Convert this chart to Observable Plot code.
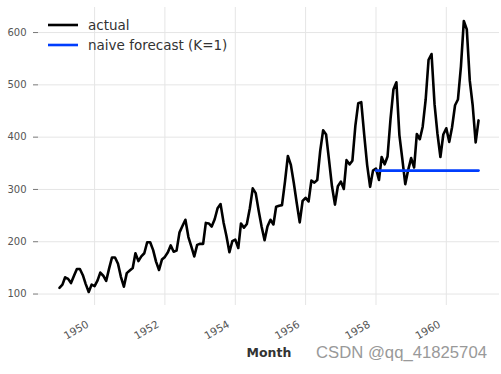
<!DOCTYPE html>
<html>
<head>
<meta charset="utf-8">
<script src="https://cdn.jsdelivr.net/npm/d3@7"></script>
<script src="https://cdn.jsdelivr.net/npm/@observablehq/plot@0.6"></script>
<style>
  html, body { margin: 0; padding: 0; background: #fff; }
  #chart { position: relative; width: 501px; height: 374px; }
</style>
</head>
<body>
<div id="chart"></div>
<script>
// AirPassengers monthly totals, 1949-01 .. 1960-12
const years = [1949,1950,1951,1952,1953,1954,1955,1956,1957,1958,1959,1960];
const passengers = [
  112,118,132,129,121,135,148,148,136,119,104,118,
  115,126,141,135,125,149,170,170,158,133,114,140,
  145,150,178,163,172,178,199,199,184,162,146,166,
  171,180,193,181,183,218,230,242,209,191,172,194,
  196,196,236,235,229,243,264,272,237,211,180,201,
  204,188,235,227,234,264,302,293,259,229,203,229,
  242,233,267,269,270,315,364,347,312,274,237,278,
  284,277,317,313,318,374,413,405,355,306,271,306,
  315,301,356,348,355,422,465,467,404,347,305,336,
  340,318,362,348,363,435,491,505,404,359,310,337,
  360,342,406,396,420,472,548,559,463,407,362,405,
  417,391,419,461,472,535,622,606,508,461,390,432
];
const forecastStart = "1958-01-01";
const forecastValue = 336; // last observed value before 1958
const xTicks = [1950,1952,1954,1956,1958,1960];
const yTicks = [100,200,300,400,500,600];
const legendLabels = ["actual", "naive forecast (K=1)"];
const seriesColors = ["#000000", "#003DFD"];

const actual = passengers.map((v, i) => ({
  date: new Date(Date.UTC(years[0] + Math.floor(i / 12), i % 12, 1)),
  value: v
}));
const fStart = new Date(forecastStart + "T00:00:00Z");
const forecast = actual.filter(d => d.date >= fStart).map(d => ({date: d.date, value: forecastValue}));

// matplotlib-like 5% margins
const t0 = +actual[0].date, t1 = +actual[actual.length - 1].date;
const dx = (t1 - t0) * 0.05;
const vmin = d3.min(passengers), vmax = d3.max(passengers);
const dv = (vmax - vmin) * 0.05;

const font = "'DejaVu Sans', sans-serif";
const xTickDates = xTicks.map(y => new Date(Date.UTC(y, 0, 1)));

const plot = Plot.plot({
  width: 501,
  height: 374,
  marginLeft: 38,
  marginRight: 2,
  marginTop: 7,
  marginBottom: 69,
  style: {fontFamily: font, fontSize: "10px", color: "#555", background: "#fff"},
  x: {type: "utc", domain: [new Date(t0 - dx), new Date(t1 + dx)]},
  y: {domain: [vmin - dv, vmax + dv]},
  marks: [
    Plot.gridY(yTicks, {stroke: "#e5e5e5", strokeOpacity: 1, strokeWidth: 1}),
    Plot.gridX(xTickDates, {stroke: "#e5e5e5", strokeOpacity: 1, strokeWidth: 1}),
    Plot.axisY(yTicks, {tickSize: 5, tickPadding: 7, stroke: "#777", fill: "#555", label: null, fontSize: 10}),
    Plot.axisX(xTickDates, {
      tickSize: 0, tickPadding: 1, tickRotate: -30, tickFormat: d3.utcFormat("%Y"),
      fill: "#555", label: null, fontSize: 10.5
    }),
    Plot.line(actual, {x: "date", y: "value", stroke: seriesColors[0], strokeWidth: 2.6}),
    Plot.line(forecast, {x: "date", y: "value", stroke: seriesColors[1], strokeWidth: 2.6})
  ]
});

const svg = d3.select(plot);
// position rotated x tick labels like matplotlib (ha="right", rotation=30)
const xs = plot.scale("x");
svg.selectAll('g[aria-label="x-axis tick label"] text').each(function(_, i) {
  const px = xs.apply(xTickDates[i]);
  d3.select(this)
    .attr("x", null).attr("y", null).attr("dx", null)
    .attr("text-anchor", "end")
    .attr("dy", "0.75em")
    .attr("transform", `translate(${px - 9},${318}) rotate(-30)`);
});
// x label
svg.append("text").attr("x", 269).attr("y", 357).attr("text-anchor", "middle")
  .attr("font-family", font).attr("font-size", 12.5).attr("font-weight", "bold").attr("fill", "#333")
  .text("Month");
// watermark
svg.append("text").attr("x", 316).attr("y", 358).attr("text-anchor", "start")
  .attr("font-family", "'Liberation Sans', Arial, sans-serif").attr("font-size", 16.7).attr("fill", "#999")
  .text("CSDN @qq_41825704");
// legend
legendLabels.forEach((lab, i) => {
  const y = 25 + i * 20;
  svg.append("line").attr("x1", 48).attr("x2", 78).attr("y1", y).attr("y2", y)
    .attr("stroke", seriesColors[i]).attr("stroke-width", 2.6);
  svg.append("text").attr("x", 88).attr("y", y + 5).attr("text-anchor", "start")
    .attr("font-family", font).attr("font-size", 13.5).attr("fill", "#333")
    .text(lab);
});

document.getElementById("chart").appendChild(plot);
</script>
</body>
</html>
